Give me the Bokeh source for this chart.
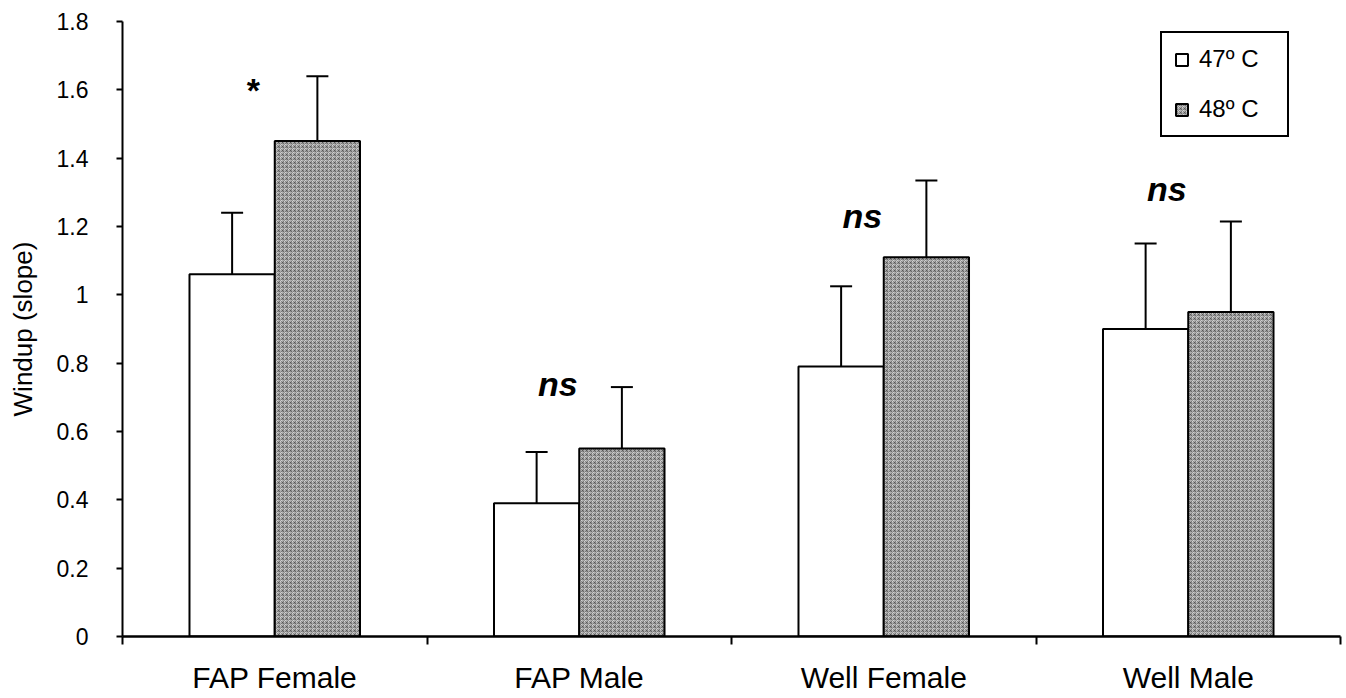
from bokeh.plotting import figure
from bokeh.models import (ColumnDataSource, Whisker, TeeHead, FixedTicker, Legend, LegendItem,
                          CustomJSTickFormatter, Range1d)
from bokeh.core.properties import value
from bokeh.embed import file_html
from bokeh.resources import INLINE

categories = ["FAP Female", "FAP Male", "Well Female", "Well Male"]
mean_47 = [1.06, 0.39, 0.79, 0.90]
err_47 = [0.18, 0.15, 0.235, 0.25]
mean_48 = [1.45, 0.55, 1.11, 0.95]
err_48 = [0.19, 0.18, 0.225, 0.265]
sig_labels = ["*", "ns", "ns", "ns"]
sig_y = [1.60, 0.74, 1.23, 1.31]
y_ticks = [0, 0.2, 0.4, 0.6, 0.8, 1.0, 1.2, 1.4, 1.6, 1.8]
series_names = ["47\u00ba C", "48\u00ba C"]

FONT = "Liberation Sans"
n = len(categories)
centers = [i + 0.5 for i in range(n)]
bw = 0.28

x47 = [c - bw / 2 for c in centers]
x48 = [c + bw / 2 for c in centers]

src47 = ColumnDataSource(dict(x=x47, top=mean_47, up=[m + e for m, e in zip(mean_47, err_47)],
                              lo=[m - e for m, e in zip(mean_47, err_47)]))
src48 = ColumnDataSource(dict(x=x48, top=mean_48, up=[m + e for m, e in zip(mean_48, err_48)],
                              lo=[m - e for m, e in zip(mean_48, err_48)]))

p = figure(width=1342, height=696, output_backend="svg", toolbar_location=None,
           x_range=Range1d(0, n), y_range=Range1d(0, 1.8))
p.min_border_left = 122
p.min_border_top = 21
p.min_border_bottom = 59
p.min_border_right = 2
p.outline_line_color = None
p.xgrid.grid_line_color = None
p.ygrid.grid_line_color = None
p.background_fill_color = "white"
p.border_fill_color = "white"

r47 = p.vbar(x="x", top="top", width=bw, bottom=0, source=src47, fill_color="white",
             line_color="black", line_width=2)
r48 = p.vbar(x="x", top="top", width=bw, bottom=0, source=src48, fill_color="#d2d2d2",
             line_color="black", line_width=2, hatch_pattern="criss_cross",
             hatch_color="#404040", hatch_alpha=0.5, hatch_scale=4, hatch_weight=1)

for src in (src47, src48):
    w = Whisker(base="x", upper="up", lower="lo", source=src, line_color="black", line_width=2,
                upper_head=TeeHead(size=22, line_width=2, line_color="black"),
                lower_head=TeeHead(size=22, line_width=2, line_color="black"))
    p.add_layout(w)

# significance labels
sig_x = [centers[0] - 0.07] + [c - 0.07 for c in centers[1:]]
star_src = ColumnDataSource(dict(x=sig_x[:1], y=sig_y[:1], t=sig_labels[:1]))
ns_src = ColumnDataSource(dict(x=sig_x[1:], y=sig_y[1:], t=sig_labels[1:]))
p.text(x="x", y="y", text="t", source=star_src, text_font=value(FONT), text_font_size="34px",
       text_font_style="bold", text_align="center", text_baseline="middle", text_color="black")
p.text(x="x", y="y", text="t", source=ns_src, text_font=value(FONT), text_font_size="34px",
       text_font_style="bold italic", text_align="center", text_baseline="middle", text_color="black")

# x axis
xa = p.xaxis[0]
xa.ticker = FixedTicker(ticks=centers, minor_ticks=[float(i) for i in range(n + 1)])
xa.major_label_overrides = {c: lab for c, lab in zip(centers, categories)}
xa.major_tick_out = 0
xa.major_tick_in = 0
xa.minor_tick_out = 8
xa.minor_tick_in = 0
xa.minor_tick_line_width = 2
xa.axis_line_width = 2.5
xa.major_label_standoff = 16
xa.major_label_text_font = FONT
xa.major_label_text_font_size = "30px"
xa.major_label_text_color = "black"

# y axis
ya = p.yaxis[0]
ya.ticker = FixedTicker(ticks=y_ticks)
ya.formatter = CustomJSTickFormatter(code="return (Math.round(tick*10)/10).toString();")
ya.major_tick_out = 6
ya.major_tick_in = 0
ya.minor_tick_out = 0
ya.minor_tick_in = 0
ya.axis_line_width = 2
ya.major_tick_line_width = 2
ya.major_label_standoff = 28
ya.major_label_text_font = FONT
ya.major_label_text_font_size = "23px"
ya.major_label_text_color = "black"
ya.axis_label = "Windup (slope)"
ya.axis_label_text_font = FONT
ya.axis_label_text_font_size = "26px"
ya.axis_label_text_font_style = "normal"
ya.axis_label_text_color = "black"
ya.axis_label_standoff = 16

legend = Legend(items=[LegendItem(label=series_names[0], renderers=[r47]),
                       LegendItem(label=series_names[1], renderers=[r48])],
                location=(1038, 499), orientation="vertical")
legend.border_line_color = "black"
legend.border_line_width = 2
legend.border_line_alpha = 1
legend.background_fill_color = "white"
legend.background_fill_alpha = 1
legend.label_text_font = FONT
legend.label_text_font_size = "24px"
legend.label_text_color = "black"
legend.glyph_width = 15
legend.glyph_height = 15
legend.label_width = 76
legend.spacing = 22
legend.padding = 12
legend.margin = 0
legend.label_standoff = 10
p.add_layout(legend, "center")

open("out.html", "w").write(file_html(p, INLINE))
